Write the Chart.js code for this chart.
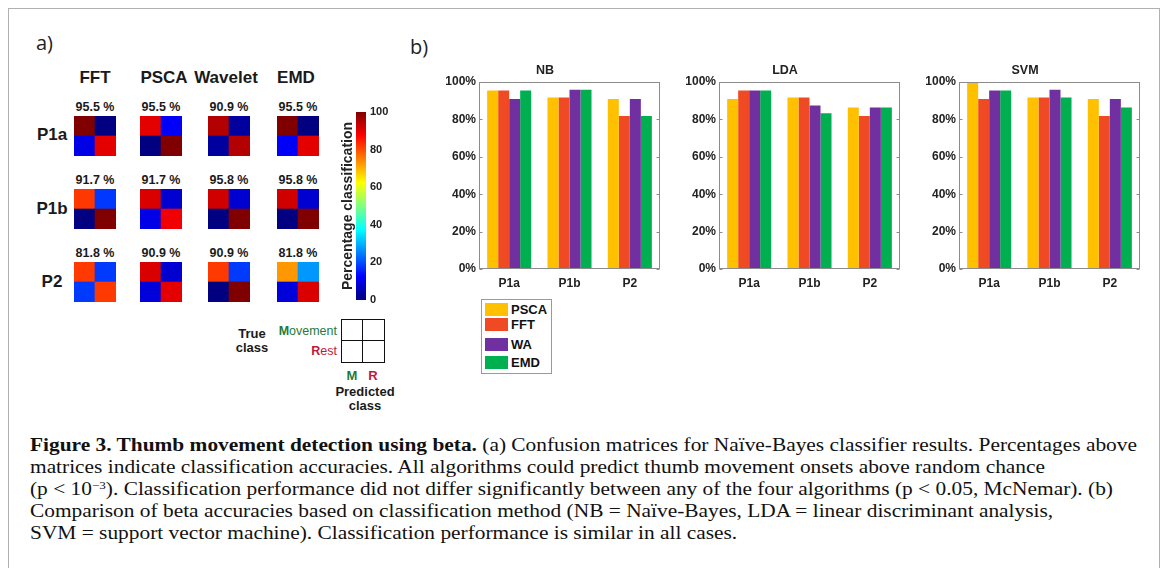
<!DOCTYPE html>
<html><head><meta charset="utf-8">
<script src="https://cdn.jsdelivr.net/npm/chart.js@4.4.1/dist/chart.umd.min.js"></script>
<style>
html,body{margin:0;padding:0;background:#fff;}
body{width:1168px;height:568px;overflow:hidden;position:relative;font-family:"Liberation Sans",Arial,sans-serif;color:#1a1a1a;}
.frame{position:absolute;left:8px;top:8px;width:1152px;height:640px;border:1px solid #b0b0b0;box-sizing:border-box;}
.t{position:absolute;white-space:nowrap;line-height:1;}
canvas{position:absolute;}
.legend{position:absolute;left:481px;top:299px;width:71px;height:75px;border:1px solid #9a9a9a;box-sizing:border-box;background:#fff;}
.li{position:absolute;left:3px;height:14px;font:bold 13px "Liberation Sans",Arial,sans-serif;line-height:14px;color:#111;}
.li span.sw{display:inline-block;width:23px;height:13px;vertical-align:top;margin-right:3px;}
.key{position:absolute;left:341px;top:319px;width:44px;height:44px;border:1.5px solid #111;box-sizing:border-box;}
.key .h{position:absolute;left:0;right:0;top:50%;border-top:1.5px solid #111;margin-top:-0.75px;}
.key .v{position:absolute;top:0;bottom:0;left:50%;border-left:1.5px solid #111;margin-left:-0.75px;}
.cap{position:absolute;left:30px;top:434px;font-family:"Liberation Serif","Times New Roman",serif;font-size:18px;line-height:22px;color:#111;transform-origin:0 0;white-space:nowrap;}
.cap div{white-space:nowrap;}
sup{font-size:11px;line-height:0;vertical-align:6px;}
</style></head><body>
<div class="frame"></div>
<script>
// ---------------- DATA ----------------
const methods = ['FFT', 'PSCA', 'Wavelet', 'EMD'];
const participants = ['P1a', 'P1b', 'P2'];
// classification accuracies shown above the confusion matrices (per method)
const accP1a = [95.5, 95.5, 90.9, 95.5];
const accP1b = [91.7, 91.7, 95.8, 95.8];
const accP2  = [81.8, 90.9, 90.9, 81.8];
// confusion matrix cells per method: [Mov->M, Mov->R, Rest->M, Rest->R] (%)
const cmP1a = [[100, 0, 10, 90], [90, 12, 0, 100], [95, 3, 3, 95], [100, 0, 12, 90]];
const cmP1b = [[82, 18, 0, 100], [91, 8, 10, 89], [92, 8, 0, 100], [92, 8, 0, 100]];
const cmP2  = [[81.8, 18.2, 18.2, 81.8], [91, 8, 9, 90], [81.8, 18.2, 0, 100], [72.7, 27.3, 9, 91]];
const colorbarTicks = [0, 20, 40, 60, 80, 100];

// bar charts (panel b)
const groups = ['P1a', 'P1b', 'P2'];
const seriesNames = ['PSCA', 'FFT', 'WA', 'EMD'];
const nbPSCA = [95.5, 91.7, 90.9];
const nbFFT  = [95.5, 91.7, 81.8];
const nbWA   = [90.9, 95.8, 90.9];
const nbEMD  = [95.5, 95.8, 81.8];
const ldaPSCA = [90.9, 91.7, 86.4];
const ldaFFT  = [95.5, 91.7, 81.8];
const ldaWA   = [95.5, 87.5, 86.4];
const ldaEMD  = [95.5, 83.3, 86.4];
const svmPSCA = [100, 91.7, 90.9];
const svmFFT  = [90.9, 91.7, 81.8];
const svmWA   = [95.5, 95.8, 90.9];
const svmEMD  = [95.5, 91.7, 86.4];
const yTicks = [0, 20, 40, 60, 80, 100];

// ---------------- STYLE ----------------
const SANS = '"Liberation Sans", Arial, sans-serif';
const seriesColors = ['#FFC000', '#F04A24', '#7030A0', '#00B050'];
const matX = [74, 140, 208, 277];
const matY = [116, 189, 262];
const headX = [95, 164, 226, 296];
const matW = 42, matH = 40;

function jet(v) {
  const t = v / 100, c = x => Math.max(0, Math.min(1, x));
  const r = c(Math.min(4 * t - 1.5, -4 * t + 4.5));
  const g = c(Math.min(4 * t - 0.5, -4 * t + 3.5));
  const b = c(Math.min(4 * t + 0.5, -4 * t + 2.5));
  return `rgb(${Math.round(r * 255)},${Math.round(g * 255)},${Math.round(b * 255)})`;
}

function text(str, x, y, css, align) {
  const d = document.createElement('div');
  d.className = 't';
  d.innerHTML = str;
  d.style.cssText += css;
  d.style.left = x + 'px';
  d.style.top = y + 'px';
  const tx = align === 'right' ? '-100%' : align === 'left' ? '0' : '-50%';
  d.style.transform = `translate(${tx},-50%)`;
  document.body.appendChild(d);
  return d;
}
function canvasAt(x, y, w, h) {
  const c = document.createElement('canvas');
  c.width = w; c.height = h;
  c.style.left = x + 'px'; c.style.top = y + 'px';
  c.style.width = w + 'px'; c.style.height = h + 'px';
  document.body.appendChild(c);
  return c;
}

Chart.defaults.font.family = SANS;
Chart.defaults.color = '#1a1a1a';
const base = { animation: false, responsive: false, maintainAspectRatio: false, devicePixelRatio: 1 };

// ---------------- PANEL A ----------------
text('a)', 36, 42, 'font:20px "Open Sans",sans-serif;color:#222;', 'left');
text('b)', 410, 46, 'font:20px "Open Sans",sans-serif;color:#222;', 'left');

methods.forEach((m, j) => text(m, headX[j], 78, `font:bold 17px ${SANS};`));
const accRows = [accP1a, accP1b, accP2];
const cmRows = [cmP1a, cmP1b, cmP2];
const rowLabelY = [135, 209, 282];
participants.forEach((p, i) => {
  text(p, 52, rowLabelY[i], `font:bold 17px ${SANS};`);
  methods.forEach((m, j) => {
    text(accRows[i][j].toFixed(1) + ' %', matX[j] + matW / 2, matY[i] - 9, `font:bold 12.5px ${SANS};`);
    const cm = cmRows[i][j];
    new Chart(canvasAt(matX[j], matY[i], matW, matH), {
      type: 'bar',
      data: {
        labels: ['M', 'R'],
        datasets: [
          { label: 'Rest', data: [1, 1], backgroundColor: [jet(cm[2]), jet(cm[3])], stack: 's' },
          { label: 'Movement', data: [1, 1], backgroundColor: [jet(cm[0]), jet(cm[1])], stack: 's' }
        ]
      },
      options: Object.assign({}, base, {
        layout: { padding: 0 },
        plugins: { legend: { display: false }, tooltip: { enabled: false }, title: { display: false } },
        datasets: { bar: { barPercentage: 1, categoryPercentage: 1, borderWidth: 0 } },
        scales: {
          x: { display: false, stacked: true },
          y: { display: false, stacked: true, min: 0, max: 2 }
        }
      })
    });
  });
});

// colorbar
new Chart(canvasAt(330, 100, 60, 215), {
  type: 'bar',
  data: {
    labels: [''],
    datasets: [{
      data: [[colorbarTicks[0], colorbarTicks[colorbarTicks.length - 1]]],
      borderWidth: 0, barPercentage: 1, categoryPercentage: 1,
      backgroundColor: ctx => {
        const ca = ctx.chart.chartArea;
        if (!ca) return jet(50);
        const g = ctx.chart.ctx.createLinearGradient(0, ca.bottom, 0, ca.top);
        for (let i = 0; i <= 40; i++) g.addColorStop(i / 40, jet(i * 2.5));
        return g;
      }
    }]
  },
  options: Object.assign({}, base, {
    layout: { padding: { top: 12, bottom: 15, left: 0, right: 0 } },
    plugins: { legend: { display: false }, tooltip: { enabled: false } },
    scales: {
      x: { display: false },
      y: {
        position: 'right', min: 0, max: 100,
        afterBuildTicks: s => { s.ticks = colorbarTicks.map(v => ({ value: v })); },
        ticks: { font: { size: 11, weight: 'bold' }, color: '#222', padding: 4 },
        grid: { display: false, drawTicks: false },
        border: { display: false },
        afterFit: s => { s.width = 24; }
      },
      yl: {
        position: 'left', min: 0, max: 100,
        ticks: { display: false },
        grid: { display: false, drawTicks: false },
        border: { display: false },
        title: { display: true, text: 'Percentage classification', font: { size: 14, weight: 'bold' }, color: '#222', padding: { top: 10, bottom: 0 } },
        afterFit: s => { s.width = 26; }
      }
    }
  })
});

// key diagram
text('True', 252, 333, `font:bold 13px ${SANS};`);
text('class', 252, 347, `font:bold 13px ${SANS};`);
text('<b>M</b>ovement', 337, 331, `font:12.5px ${SANS};color:#1f7a3c;`, 'right');
text('<b>R</b>est', 337, 351, `font:12.5px ${SANS};color:#c0183a;`, 'right');
const key = document.createElement('div');
key.className = 'key';
key.innerHTML = '<div class="h"></div><div class="v"></div>';
document.body.appendChild(key);
text('M', 352, 375, `font:bold 13px ${SANS};color:#1f7a3c;`);
text('R', 373, 375, `font:bold 13px ${SANS};color:#c0183a;`);
text('Predicted', 365, 391, `font:bold 13px ${SANS};`);
text('class', 365, 405, `font:bold 13px ${SANS};`);

// ---------------- PANEL B ----------------
const framePlugin = {
  id: 'frame',
  afterDraw(chart) {
    const { ctx, chartArea: a, scales } = chart;
    ctx.save();
    ctx.strokeStyle = '#8c8c8c';
    ctx.lineWidth = 1;
    const l = Math.round(a.left) + 0.5, r = Math.round(a.right) - 0.5, t = Math.round(a.top) + 0.5, b = Math.round(a.bottom) - 0.5;
    ctx.strokeRect(l, t, r - l, b - t);
    ctx.beginPath();
    scales.y.ticks.forEach(tk => {
      const y = Math.round(scales.y.getPixelForValue(tk.value)) + 0.5;
      ctx.moveTo(l, y); ctx.lineTo(l + 3, y);
      ctx.moveTo(r, y); ctx.lineTo(r - 3, y);
    });
    ctx.stroke();
    ctx.restore();
  }
};

function barChart(x, title, data) {
  new Chart(canvasAt(x, 58, 240, 240), {
    type: 'bar',
    data: {
      labels: groups,
      datasets: seriesNames.map((s, k) => ({ label: s, data: data[k], backgroundColor: seriesColors[k], borderWidth: 0 }))
    },
    options: Object.assign({}, base, {
      layout: { padding: { left: 0, right: 10, top: 0, bottom: 0 } },
      plugins: {
        legend: { display: false }, tooltip: { enabled: false },
        title: { display: true, text: title, font: { size: 12.5, weight: 'bold' }, color: '#222', padding: { top: 5, bottom: 4 } }
      },
      datasets: { bar: { barPercentage: 1, categoryPercentage: 0.73 } },
      scales: {
        x: {
          grid: { display: false, drawTicks: false }, border: { display: false },
          ticks: { font: { size: 12, weight: 'bold' }, color: '#222', padding: 7 },
          afterFit: s => { s.height = 29; }
        },
        y: {
          min: 0, max: 100,
          afterBuildTicks: s => { s.ticks = yTicks.map(v => ({ value: v })); },
          ticks: { font: { size: 12, weight: 'bold' }, color: '#222', padding: 3, callback: v => v + '%' },
          grid: { display: false, drawTicks: false }, border: { display: false },
          afterFit: s => { s.width = 49; }
        }
      }
    }),
    plugins: [framePlugin]
  });
}
barChart(430, 'NB', [nbPSCA, nbFFT, nbWA, nbEMD]);
barChart(670, 'LDA', [ldaPSCA, ldaFFT, ldaWA, ldaEMD]);
barChart(910, 'SVM', [svmPSCA, svmFFT, svmWA, svmEMD]);

// legend
const lg = document.createElement('div');
lg.className = 'legend';
const legTops = [3, 18, 38, 56];
lg.innerHTML = seriesNames.map((s, k) =>
  `<div class="li" style="top:${legTops[k]}px"><span class="sw" style="background:${seriesColors[k]}"></span>${s}</div>`).join('');
document.body.appendChild(lg);

// ---------------- CAPTION ----------------
const cap = document.createElement('div');
cap.className = 'cap';
cap.innerHTML = [
  '<b>Figure 3. Thumb movement detection using beta.</b> (a) Confusion matrices for Naïve-Bayes classifier results. Percentages above',
  'matrices indicate classification accuracies. All algorithms could predict thumb movement onsets above random chance',
  '<span id="l3">(p &lt; 10<sup>−3</sup>). Classification performance did not differ significantly between any of the four algorithms (p &lt; 0.05, McNemar). (b)</span>',
  'Comparison of beta accuracies based on classification method (NB = Naïve-Bayes, LDA = linear discriminant analysis,',
  'SVM = support vector machine). Classification performance is similar in all cases.'
].map(s => `<div>${s}</div>`).join('');
document.body.appendChild(cap);
const w3 = document.getElementById('l3').getBoundingClientRect().width;
cap.style.transform = `scaleX(${(1113 - 30) / w3})`;
</script>
</body></html>
